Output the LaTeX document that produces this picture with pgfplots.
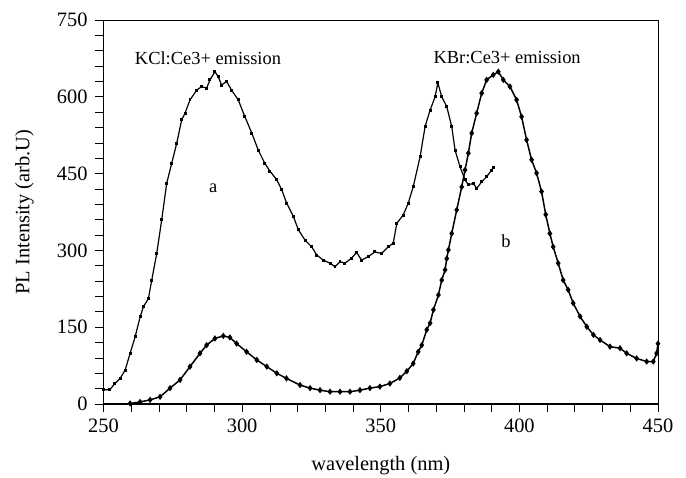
\documentclass[border=0pt]{standalone}
\usepackage{pgfplots}
\pgfplotsset{compat=1.18}
\usepackage{fontspec}
\setmainfont{Liberation Serif}
\begin{document}
\begin{tikzpicture}
\begin{axis}[
  scale only axis,
  width=554.5bp, height=384bp,
  xmin=250, xmax=450, ymin=0, ymax=750,
  xtick={250,300,...,450}, ytick={0,150,...,750},
  minor x tick num=4, minor y tick num=4,
  tick align=outside, tick pos=left,
  major tick length=8bp, minor tick length=8bp,
  tick style={black, line width=0.7pt},
  axis line style={line width=0.7pt},
  /pgf/number format/assume math mode=true,
  ticklabel style={font=\fontsize{20.5}{20.5}\selectfont},
  xticklabel style={anchor=center, yshift=-14bp},
  yticklabel style={anchor=east, xshift=-4.5bp},
  xlabel={wavelength (nm)},
  ylabel={PL Intensity (arb.U)},
  every axis x label/.style={at={(axis description cs:0.5,-0.161)}, anchor=center, font=\fontsize{20.5}{20.5}\selectfont},
  every axis y label/.style={at={(axis description cs:-0.1425,0.5)}, rotate=90, anchor=center, font=\fontsize{20.5}{20.5}\selectfont},
  clip=false,
]
\addplot[black, line width=1.2pt, mark=square*, mark size=0.9pt] coordinates {
(250.0,28) (252.3,28) (254.1,40) (256.0,50) (257.8,66) (259.6,99) (261.4,131)
(263.2,170) (264.4,190) (266.2,206) (267.4,242) (269.2,294) (271.0,360) (272.8,431)
(274.6,470) (276.4,509) (278.2,555) (279.4,568) (281.2,594) (283.6,613) (285.4,620)
(287.2,617) (288.4,633) (290.2,649) (291.4,639) (292.6,623) (294.4,630) (296.2,613)
(298.6,594) (301.0,561) (303.5,529) (305.8,496) (308.2,470) (310.0,455) (312.5,438)
(314.3,418) (316.1,392) (318.5,366) (320.3,340) (322.7,320) (325.1,307) (326.9,291)
(329.3,281) (331.7,275) (333.5,268) (335.3,278) (337.1,275) (339.5,285) (341.3,296)
(343.1,281) (345.5,288) (347.9,297) (350.3,294) (352.7,307) (354.5,314) (355.8,353)
(358.1,369) (359.9,392) (361.7,424) (364.2,483) (366.0,542) (367.8,574) (369.6,600)
(370.6,627) (372.0,600) (373.8,581) (375.6,542) (376.8,496) (378.6,463) (380.4,438)
(381.6,428) (383.4,431) (384.6,421) (386.4,434) (388.2,444) (390.0,457) (390.6,462)
};
\addplot[black, line width=1.5pt, mark=diamond*, mark size=2pt] coordinates {
(259.6,1) (263.2,4) (266.8,8) (270.4,14) (274.0,31) (277.6,47) (281.2,73) (284.8,99)
(287.2,115) (290.2,128) (293.2,133) (295.6,130) (298.0,118) (301.6,102) (305.3,86)
(308.9,73) (312.5,60) (316.0,50) (320.9,37) (324.5,31) (328.1,27) (331.7,24) (335.3,24)
(338.9,24) (342.5,27) (346.1,31) (349.7,34) (353.3,40) (356.9,51) (359.4,64) (361.7,79)
(363.5,102) (364.8,115) (366.6,145) (367.8,158) (369.0,184) (370.8,213) (372.0,242)
(373.2,262) (373.8,284) (374.4,301) (375.6,333) (377.4,379) (379.2,424) (380.4,457)
(381.6,490) (382.8,529) (384.6,568) (386.4,607) (388.2,633) (390.6,643) (392.4,649)
(394.2,633) (396.6,620) (399.0,594) (400.8,561) (402.6,516) (404.4,477) (406.2,451)
(408.0,415) (409.5,370) (411.0,333) (412.2,307) (414.0,275) (415.8,242) (417.6,223)
(419.4,197) (421.9,171) (424.3,151) (426.7,135) (429.1,125) (432.7,112) (436.3,109)
(438.7,99) (442.3,89) (445.9,83) (448.3,83) (449.5,99) (450.0,118)
};
\draw[line width=1.6pt] (rel axis cs:0,1) -- (rel axis cs:0,0) -- (rel axis cs:1,0);
\node[font=\fontsize{18.5}{18.5}\selectfont] at (axis cs:287.7,676) {KCl:Ce3+ emission};
\node[font=\fontsize{18.5}{18.5}\selectfont] at (axis cs:395.6,676) {KBr:Ce3+ emission};
\node[font=\fontsize{18.5}{18.5}\selectfont] at (axis cs:289.6,421) {a};
\node[font=\fontsize{18.5}{18.5}\selectfont] at (axis cs:395.2,318) {b};
\end{axis}
\pgfresetboundingbox
\path[use as bounding box] (-103.5bp,-74bp) rectangle (582.5bp,404bp);
\end{tikzpicture}
\end{document}
